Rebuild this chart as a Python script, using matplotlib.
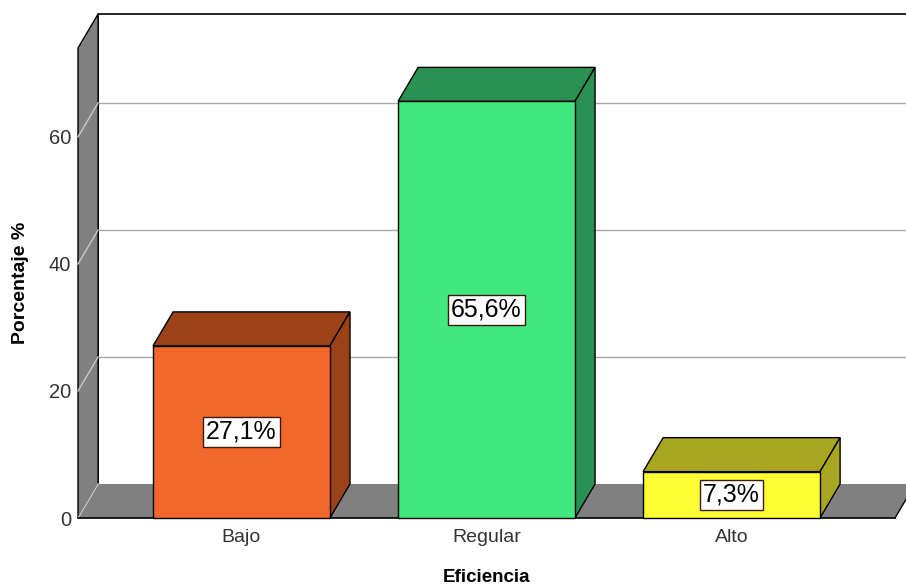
"""
3D-style SPSS bar chart: Eficiencia (Bajo / Regular / Alto) in percent.
Writes out.png.
"""
import matplotlib
matplotlib.use("Agg")
import matplotlib.pyplot as plt
from matplotlib.patches import Polygon, Rectangle
import numpy as np

# ─────────────────────────────────────────────────────────────────────────────
# Data
# ─────────────────────────────────────────────────────────────────────────────
categories = ["Bajo", "Regular", "Alto"]
percentages = [27.1, 65.6, 7.3]
value_labels = ["27,1%", "65,6%", "7,3%"]
y_ticks = [0, 20, 40, 60]

FRONT_COLORS = ["#F2682A", "#41E87D", "#FFFF33"]
SIDE_COLORS = ["#9B4219", "#2B9153", "#A9A621"]
WALL = "#808080"

plt.rcParams["font.family"] = ["Liberation Sans", "DejaVu Sans"]

# depth offset of the 3D effect, in data units
DX = 0.082
DY = 5.35
BAR_W = 0.722
X0, X1 = -0.667, 2.667
Y_TOP = 74.0


def draw_bar(ax, x, h, front, side):
    l, r = x - BAR_W / 2, x + BAR_W / 2
    kw = dict(edgecolor="black", linewidth=1.0, clip_on=False, zorder=5)
    ax.add_patch(Polygon([(l, h), (r, h), (r + DX, h + DY), (l + DX, h + DY)],
                         facecolor=side, **kw))
    ax.add_patch(Polygon([(r, 0), (r + DX, DY), (r + DX, h + DY), (r, h)],
                         facecolor=side, **kw))
    ax.add_patch(Rectangle((l, 0), BAR_W, h, facecolor=front, **kw))


fig = plt.figure(figsize=(9.06, 5.88), dpi=100)
ax = fig.add_axes([78 / 906, 70 / 588, 817 / 906, 470 / 588])
ax.set_xlim(X0, X1)
ax.set_ylim(0, Y_TOP)
for s in ax.spines.values():
    s.set_visible(False)

x = np.arange(len(categories))
x_far = X1 + 1.0

# back wall gridlines
for v in y_ticks[1:]:
    ax.plot([X0 + DX, x_far], [v + DY, v + DY], color="#A8A8A8", lw=1.0,
            clip_on=False, zorder=1)
# back wall border
ax.plot([X0 + DX, X0 + DX, x_far], [DY, Y_TOP + DY, Y_TOP + DY],
        color="black", lw=1.2, clip_on=False, zorder=2)

# left wall
ax.add_patch(Polygon([(X0, 0), (X0 + DX, DY), (X0 + DX, Y_TOP + DY), (X0, Y_TOP)],
                     facecolor=WALL, edgecolor="black", lw=1.0,
                     clip_on=False, zorder=2))
for v in y_ticks:
    ax.plot([X0, X0 + DX], [v, v + DY], color="#C8C8C8", lw=1.0,
            clip_on=False, zorder=3)

# floor
ax.add_patch(Polygon([(X0, 0), (X1, 0), (X1 + DX, DY), (X0 + DX, DY)],
                     facecolor=WALL, edgecolor="none", clip_on=False, zorder=2))
ax.plot([X0, X1], [0, 0], color="black", lw=1.2, clip_on=False, zorder=3)
ax.plot([X1, X1 + DX], [0, DY], color="black", lw=1.0, clip_on=False, zorder=3)

for xi, h, fc, sc, lab in zip(x, percentages, FRONT_COLORS, SIDE_COLORS, value_labels):
    draw_bar(ax, xi, h, fc, sc)
    ax.text(xi, h / 2, lab, ha="center", va="center", fontsize=18, zorder=6,
            bbox=dict(boxstyle="square,pad=0.12", facecolor="white",
                      edgecolor="#3a1a10", linewidth=1.0))

ax.set_xticks(x)
ax.set_xticklabels(categories, fontsize=14, color="#333333")
ax.set_yticks(y_ticks)
ax.set_yticklabels([str(v) for v in y_ticks], fontsize=14.5, color="#333333")
ax.tick_params(axis="both", length=0)
ax.tick_params(axis="x", pad=8)
ax.tick_params(axis="y", pad=5)

ax.set_ylabel("Porcentaje %", fontsize=14, fontweight="bold")
ax.yaxis.set_label_coords(-0.060, 0.5)
ax.set_xlabel("Eficiencia", fontsize=13.5, fontweight="bold")
ax.xaxis.set_label_coords(0.5, -0.108)

fig.savefig("out.png", dpi=100)
plt.close(fig)
